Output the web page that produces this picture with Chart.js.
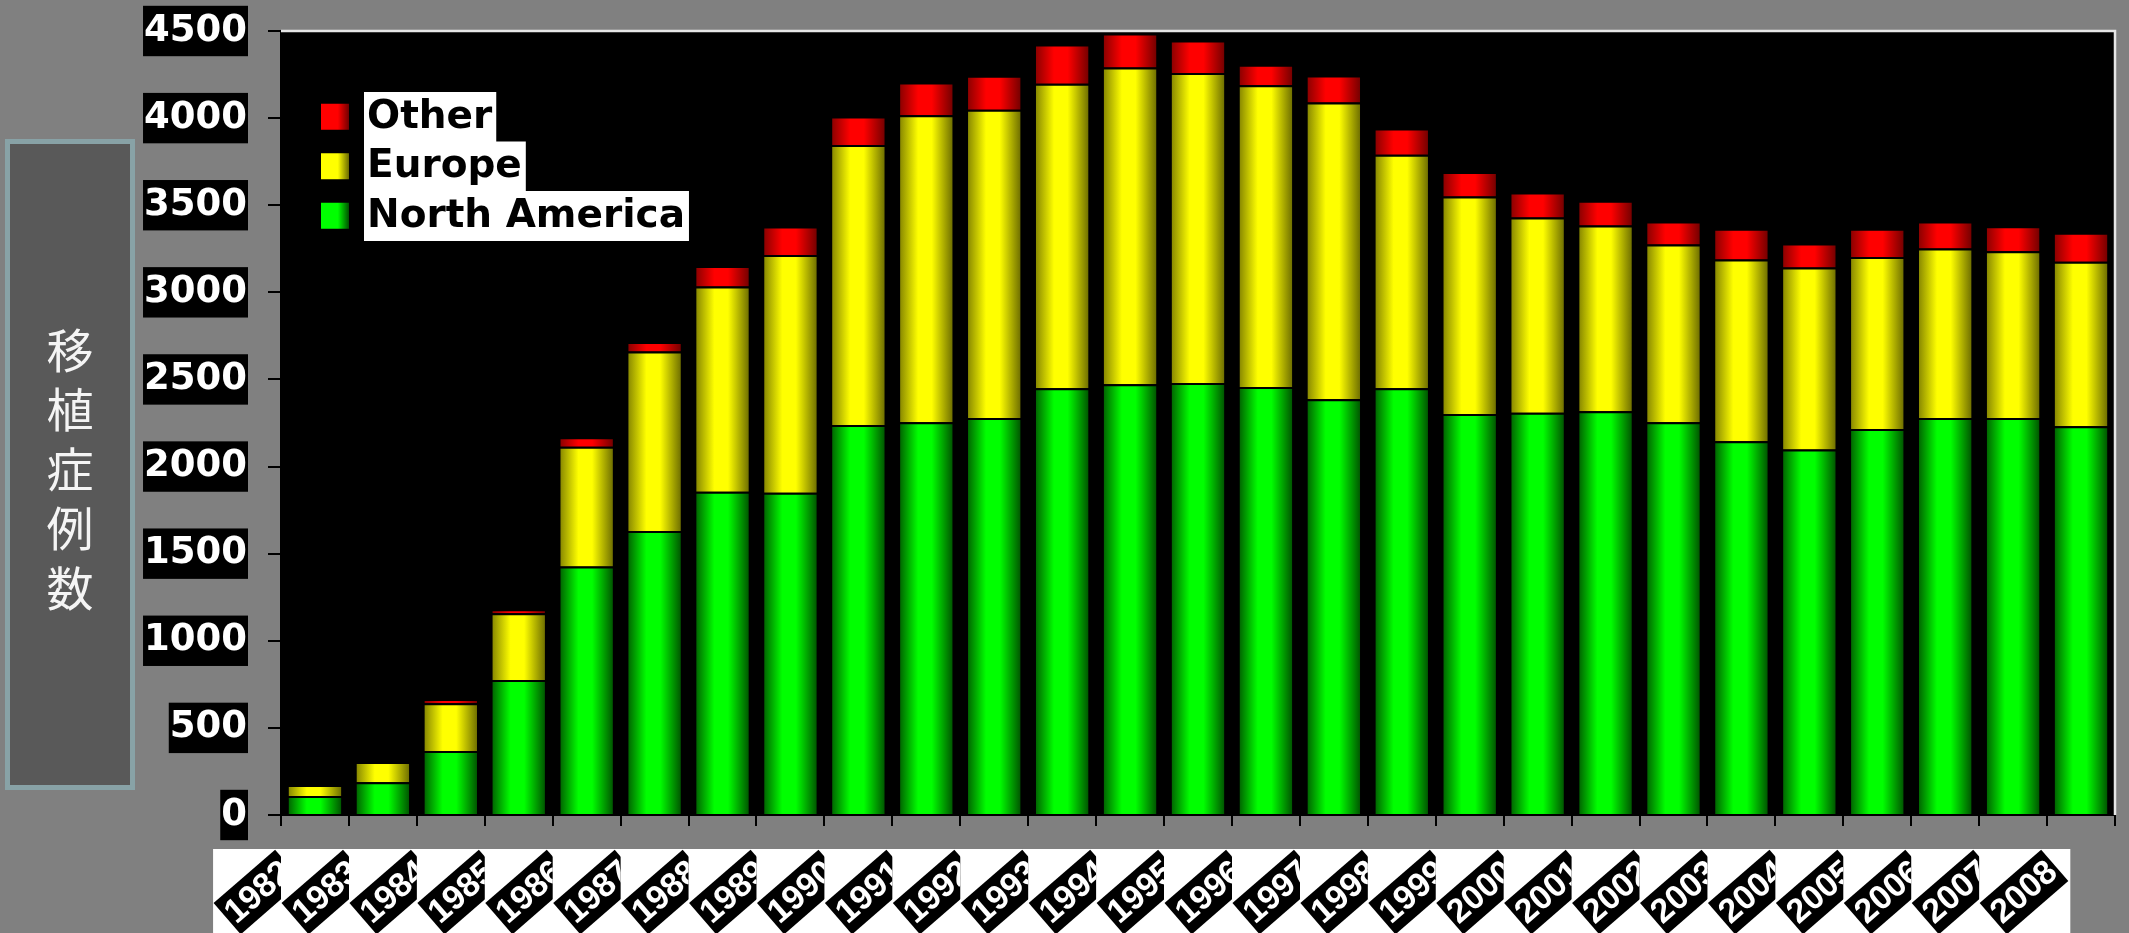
<!DOCTYPE html>
<html>
<head>
<meta charset="utf-8">
<script src="https://cdn.jsdelivr.net/npm/chart.js@4.4.1/dist/chart.umd.min.js"></script>
<style>
  html, body { margin: 0; padding: 0; background: #808080; overflow: hidden; }
  canvas { display: block; }
</style>
</head>
<body>
<canvas id="c" width="2129" height="933"></canvas>
<script>
// ---- data ----
const years = ['1982','1983','1984','1985','1986','1987','1988','1989','1990','1991','1992','1993','1994','1995','1996','1997','1998','1999','2000','2001','2002','2003','2004','2005','2006','2007','2008'];
const northAmerica = [109,188,367,775,1427,1630,1856,1849,2239,2254,2278,2449,2473,2480,2457,2387,2449,2301,2309,2317,2254,2145,2098,2215,2278,2278,2231];
const europe       = [63,116,274,383,687,1030,1178,1365,1607,1763,1770,1748,1817,1779,1732,1702,1341,1249,1121,1066,1021,1044,1044,988,973,958,945];
const other        = [0,0,25,23,54,55,117,164,163,187,195,226,195,187,117,155,151,141,143,143,131,176,138,162,155,143,166];
const seriesNames  = ['North America','Europe','Other'];
const yMin = 0, yMax = 4500, yStep = 500;
const yTitleChars = ['移','植','症','例','数'];

const palettes = {
  'North America': ['#006000','#00ff00','#005000'],
  'Europe':        ['#848400','#ffff00','#6a6a00'],
  'Other':         ['#880000','#ff0000','#700000']
};

function makeGrad(ctx, x0, x1, p) {
  const g = ctx.createLinearGradient(x0, 0, x1, 0);
  g.addColorStop(0, p[0]);
  g.addColorStop(0.35, p[1]);
  g.addColorStop(0.6, p[1]);
  g.addColorStop(1, p[2]);
  return g;
}

function barColor(name) {
  return (c) => {
    const ch = c.chart;
    const p = palettes[name];
    if (!ch.chartArea || c.dataIndex === undefined) return p[1];
    const xs = ch.scales.x;
    const cw = xs.width / years.length;
    const x = xs.getPixelForValue(c.dataIndex);
    const w = cw * 0.8;
    return makeGrad(ch.ctx, x - w / 2, x + w / 2, p);
  };
}

const decor = {
  id: 'decor',
  beforeDraw(chart) {
    const ctx = chart.ctx, ca = chart.chartArea;
    ctx.save();
    ctx.fillStyle = '#808080';
    ctx.fillRect(0, 0, chart.width, chart.height);
    // plot background
    ctx.fillStyle = '#000000';
    ctx.fillRect(ca.left, ca.top, ca.right - ca.left, ca.bottom - ca.top);
    // y title box
    ctx.fillStyle = '#88a2a6';
    ctx.fillRect(5, 139, 130, 651);
    ctx.fillStyle = '#595959';
    ctx.fillRect(10, 144, 120, 641);
    ctx.fillStyle = '#f4f4f4';
    ctx.font = '47px "Noto Sans CJK JP"';
    ctx.textAlign = 'center';
    ctx.textBaseline = 'middle';
    yTitleChars.forEach((ch, k) => ctx.fillText(ch, 70, 350 + k * 59.5));
    ctx.restore();
  },
  afterDraw(chart) {
    const ctx = chart.ctx, ca = chart.chartArea, xs = chart.scales.x;
    const n = years.length, cw = xs.width / n;
    ctx.save();
    // top/right border of plot
    ctx.strokeStyle = '#e6e6e6';
    ctx.lineWidth = 2.5;
    ctx.beginPath();
    ctx.moveTo(ca.left, ca.top);
    ctx.lineTo(ca.right, ca.top);
    ctx.lineTo(ca.right, ca.bottom);
    ctx.stroke();

    // legend (reverse order)
    const lx = ca.left + 40, ly = ca.top + 61, rowH = 49.5;
    ctx.font = 'bold 39px "DejaVu Sans"';
    ctx.textBaseline = 'middle';
    ctx.textAlign = 'left';
    const ds = chart.data.datasets.slice().reverse();
    ds.forEach((d, k) => {
      const top = ly + k * rowH;
      const cy = top + rowH / 2;
      const p = palettes[d.label];
      ctx.fillStyle = makeGrad(ctx, lx, lx + 28, [p[1], p[1], p[2]]);
      ctx.fillRect(lx, cy - 13, 28, 26);
      const tw = ctx.measureText(d.label).width;
      ctx.fillStyle = '#ffffff';
      ctx.fillRect(lx + 43, top, tw + 7, rowH + 0.5);
      ctx.fillStyle = '#000000';
      ctx.fillText(d.label, lx + 46, cy + 1);
    });

    // x labels strip
    const ang = -41 * Math.PI / 180, L = 81.5, S = 41.4;
    const half = L / 2 * Math.cos(-ang) + S / 2 * Math.sin(-ang);
    const stripTop = ca.bottom + 34;
    const x0 = xs.getPixelForValue(0) - 1.5 * cw;
    const lastC = xs.getPixelForValue(n - 1) - 0.84 * cw;
    const stripRight = lastC + half + 2;
    ctx.fillStyle = '#ffffff';
    ctx.fillRect(x0, stripTop, stripRight - x0, chart.height - stripTop);
    for (let i = 0; i < n; i++) {
      const bx = xs.getPixelForValue(i);
      const c = bx - 0.84 * cw;
      const clipL = bx - 1.5 * cw;
      ctx.save();
      ctx.beginPath();
      ctx.rect(clipL, stripTop, i === n - 1 ? stripRight - clipL : cw, chart.height - stripTop);
      ctx.clip();
      ctx.translate(c, stripTop + 43);
      ctx.rotate(ang);
      ctx.fillStyle = '#000000';
      ctx.fillRect(-L / 2, -S / 2, L, S);
      ctx.fillStyle = '#ffffff';
      ctx.font = 'bold 34px "Liberation Sans"';
      ctx.textAlign = 'center';
      ctx.textBaseline = 'middle';
      ctx.fillText(years[i], 0, 1);
      ctx.restore();
    }
    ctx.restore();
  }
};

const mk = (name, data) => ({
  label: name,
  data: data,
  backgroundColor: barColor(name),
  borderColor: '#000000',
  borderWidth: { top: 2, left: 1, right: 1, bottom: 0 },
  borderSkipped: 'start',
  barPercentage: 0.8,
  categoryPercentage: 1.0
});

new Chart(document.getElementById('c'), {
  type: 'bar',
  data: {
    labels: years,
    datasets: [
      mk(seriesNames[0], northAmerica),
      mk(seriesNames[1], europe),
      mk(seriesNames[2], other)
    ]
  },
  options: {
    responsive: false,
    animation: false,
    devicePixelRatio: 1,
    layout: { padding: { left: 0, top: 31, right: 14, bottom: 0 } },
    plugins: { legend: { display: false }, tooltip: { enabled: false } },
    scales: {
      x: {
        stacked: true,
        offset: true,
        afterFit: (s) => { s.height = 118; s.paddingLeft = 0; s.paddingRight = 0; },
        grid: { display: true, drawOnChartArea: false, drawTicks: true, tickLength: 11, color: '#000000', lineWidth: 2 },
        border: { display: true, color: '#000000', width: 2 },
        ticks: { display: false }
      },
      y: {
        stacked: true,
        min: yMin,
        max: yMax,
        afterFit: (s) => { s.width = 281; s.paddingTop = 0; s.paddingBottom = 0; },
        grid: { display: true, drawOnChartArea: false, drawTicks: true, tickLength: 13, color: '#000000', lineWidth: 2 },
        border: { display: true, color: '#000000', width: 2 },
        ticks: {
          stepSize: yStep,
          callback: (v) => String(v),
          color: '#ffffff',
          font: { family: 'DejaVu Sans', weight: 'bold', size: 37 },
          padding: 21,
          showLabelBackdrop: true,
          backdropColor: '#000000',
          backdropPadding: { top: 3, bottom: 3, left: 1, right: 1 }
        }
      }
    }
  },
  plugins: [decor]
});
</script>
</body>
</html>
